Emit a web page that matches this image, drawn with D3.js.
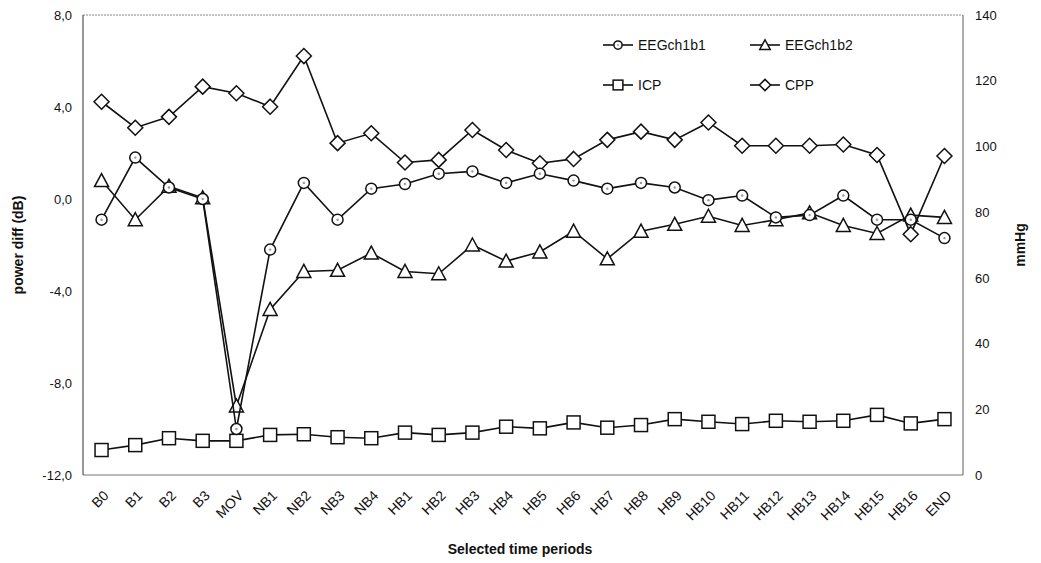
<!DOCTYPE html>
<html>
<head>
<meta charset="utf-8">
<title>EEG power and pressures</title>
<script src="https://cdn.jsdelivr.net/npm/d3@7"></script>
<style>
  body { margin: 0; background: #fff; }
  text { font-family: "Liberation Sans", Arial, sans-serif; fill: #111; }
  .axis path { display: none; }
  .axis line { display: none; }
  .axis text { font-size: 13px; }
  .x-axis text { font-size: 14px; }
  .title { font-size: 14px; font-weight: bold; }
  .legend text { font-size: 14px; }
</style>
</head>
<body>
<script>
// categories along x
var periods = ["B0", "B1", "B2", "B3", "MOV", "NB1", "NB2", "NB3", "NB4",
  "HB1", "HB2", "HB3", "HB4", "HB5", "HB6", "HB7", "HB8", "HB9", "HB10",
  "HB11", "HB12", "HB13", "HB14", "HB15", "HB16", "END"];

// power diff (dB), left axis
var eeg1 = [-0.9, 1.8, 0.5, 0.0, -10.0, -2.2, 0.7, -0.9, 0.45,
  0.65, 1.1, 1.2, 0.7, 1.1, 0.8, 0.45, 0.7, 0.5, -0.05,
  0.15, -0.8, -0.7, 0.15, -0.9, -0.9, -1.7];
var eeg2 = [0.8, -0.9, 0.55, 0.05, -9.0, -4.8, -3.15, -3.1, -2.35,
  -3.15, -3.25, -2.0, -2.7, -2.3, -1.4, -2.6, -1.4, -1.1, -0.75,
  -1.15, -0.9, -0.6, -1.15, -1.5, -0.7, -0.8];

// mmHg, right axis
var icp = [7.6, 9.1, 11.2, 10.4, 10.4, 12.2, 12.4, 11.5, 11.2,
  12.9, 12.2, 12.9, 14.7, 14.2, 16.0, 14.4, 15.2, 17.0, 16.2,
  15.5, 16.5, 16.2, 16.5, 18.3, 15.7, 17.0];
var cpp = [113.6, 105.7, 109.0, 118.2, 116.2, 112.1, 127.5, 101.0, 104.0,
  95.1, 95.9, 105.0, 98.9, 94.9, 96.2, 102.0, 104.5, 102.0, 107.3,
  100.2, 100.2, 100.2, 100.6, 97.4, 73.3, 97.1];

var leftTicks = [-12, -8, -4, 0, 4, 8];
var rightTicks = [0, 20, 40, 60, 80, 100, 120, 140];

var width = 1041, height = 563;
var plotL = 83, plotR = 963, plotT = 15, plotB = 475;

var svg = d3.select("body").append("svg")
  .attr("width", width)
  .attr("height", height);

var x = d3.scalePoint().domain(periods).range([plotL, plotR]).padding(0.55);
var yL = d3.scaleLinear().domain([-12, 8]).range([plotB, plotT]);
var yR = d3.scaleLinear().domain([0, 140]).range([plotB, plotT]);

// frame
svg.append("line").attr("x1", plotL).attr("x2", plotR).attr("y1", plotT).attr("y2", plotT)
  .attr("stroke", "#888").attr("stroke-width", 1).attr("stroke-dasharray", "2,1");
svg.append("line").attr("x1", plotL).attr("x2", plotR).attr("y1", plotB).attr("y2", plotB)
  .attr("stroke", "#777").attr("stroke-width", 1);
svg.append("line").attr("x1", plotL).attr("x2", plotL).attr("y1", plotT).attr("y2", plotB)
  .attr("stroke", "#333").attr("stroke-width", 1);
svg.append("line").attr("x1", plotR).attr("x2", plotR).attr("y1", plotT).attr("y2", plotB)
  .attr("stroke", "#777").attr("stroke-width", 1.2);

// axes
svg.append("g").attr("class", "axis")
  .attr("transform", "translate(" + (plotL - 3) + ",0)")
  .call(d3.axisLeft(yL).tickValues(leftTicks).tickSize(0).tickPadding(8)
    .tickFormat(function(d) { return d.toFixed(1).replace(".", ","); }));

svg.append("g").attr("class", "axis")
  .attr("transform", "translate(" + (plotR + 4) + ",0)")
  .call(d3.axisRight(yR).tickValues(rightTicks).tickSize(0).tickPadding(8));

var xAxis = svg.append("g").attr("class", "axis x-axis")
  .attr("transform", "translate(0," + plotB + ")")
  .call(d3.axisBottom(x).tickSize(0).tickPadding(0));
xAxis.selectAll("text")
  .attr("text-anchor", "end")
  .attr("dy", "0.35em")
  .attr("transform", "translate(4,18) rotate(-45)");

// axis titles
svg.append("text").attr("class", "title")
  .attr("transform", "translate(23," + ((plotT + plotB) / 2) + ") rotate(-90)")
  .attr("text-anchor", "middle")
  .text("power diff (dB)");
svg.append("text").attr("class", "title")
  .attr("transform", "translate(1025," + ((plotT + plotB) / 2) + ") rotate(-90)")
  .attr("text-anchor", "middle")
  .text("mmHg");
svg.append("text").attr("class", "title")
  .attr("x", 520).attr("y", 554)
  .attr("text-anchor", "middle")
  .text("Selected time periods");

// marker shapes, k scales the size
function drawMarker(g, kind, k) {
  k = k || 1;
  if (kind === "circle") {
    g.append("circle").attr("r", 5.5 * k).attr("fill", "#fff").attr("stroke", "#111").attr("stroke-width", 1.5);
    g.append("circle").attr("r", 1.2 * k).attr("fill", "#999");
  } else if (kind === "triangle") {
    g.append("path").attr("d", "M0," + (-7 * k) + "L" + (7 * k) + "," + (6 * k) + "L" + (-7 * k) + "," + (6 * k) + "Z")
      .attr("fill", "#fff").attr("stroke", "#111").attr("stroke-width", 1.5);
  } else if (kind === "square") {
    g.append("rect").attr("x", -6.5 * k).attr("y", -6.5 * k).attr("width", 13 * k).attr("height", 13 * k)
      .attr("fill", "#fff").attr("stroke", "#111").attr("stroke-width", 1.5);
  } else {
    g.append("path").attr("d", "M0," + (-7.5 * k) + "L" + (7.5 * k) + ",0L0," + (7.5 * k) + "L" + (-7.5 * k) + ",0Z")
      .attr("fill", "#fff").attr("stroke", "#111").attr("stroke-width", 1.5);
  }
}

var series = [
  { name: "ICP", values: icp, y: yR, kind: "square" },
  { name: "CPP", values: cpp, y: yR, kind: "diamond" },
  { name: "EEGch1b2", values: eeg2, y: yL, kind: "triangle" },
  { name: "EEGch1b1", values: eeg1, y: yL, kind: "circle" }
];

series.forEach(function(s) {
  var line = d3.line()
    .x(function(d, i) { return x(periods[i]); })
    .y(function(d) { return s.y(d); });
  svg.append("path")
    .datum(s.values)
    .attr("d", line)
    .attr("fill", "none")
    .attr("stroke", "#111")
    .attr("stroke-width", 1.6);
  svg.selectAll(null)
    .data(s.values)
    .enter()
    .append("g")
    .attr("transform", function(d, i) { return "translate(" + x(periods[i]) + "," + s.y(d) + ")"; })
    .each(function() { drawMarker(d3.select(this), s.kind, 1); });
});

// legend
var legendItems = [
  { name: "EEGch1b1", kind: "circle", lx: 603, ly: 45 },
  { name: "EEGch1b2", kind: "triangle", lx: 750, ly: 45 },
  { name: "ICP", kind: "square", lx: 603, ly: 85 },
  { name: "CPP", kind: "diamond", lx: 750, ly: 85 }
];
var legend = svg.append("g").attr("class", "legend");
legendItems.forEach(function(it) {
  var g = legend.append("g").attr("transform", "translate(" + it.lx + "," + it.ly + ")");
  g.append("line").attr("x1", 0).attr("x2", 30).attr("stroke", "#111").attr("stroke-width", 1.6);
  drawMarker(g.append("g").attr("transform", "translate(15,0)"), it.kind, 0.75);
  g.append("text").attr("x", 35).attr("dy", "0.35em").text(it.name);
});
</script>
</body>
</html>
